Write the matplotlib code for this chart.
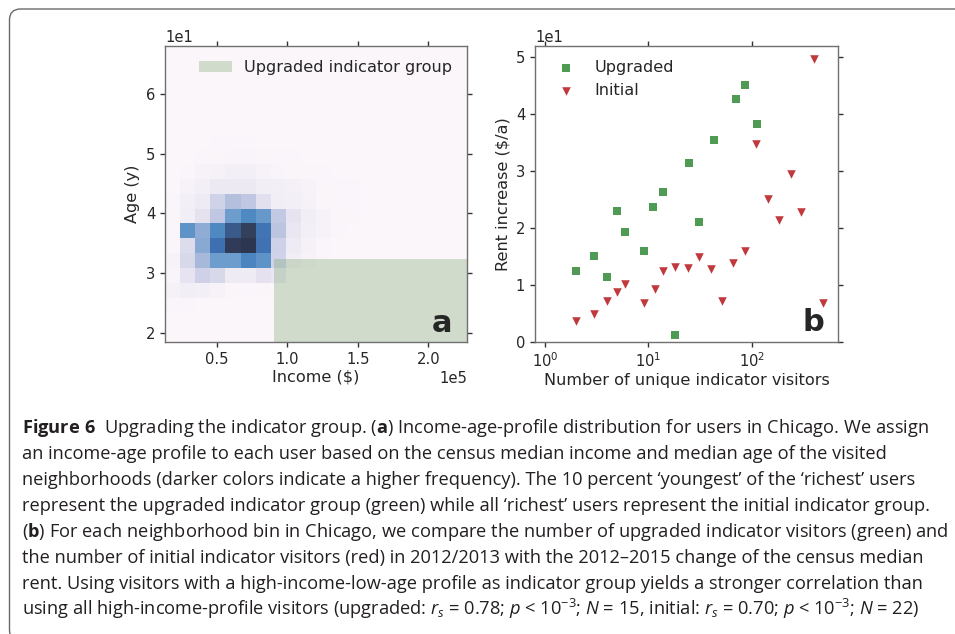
import numpy as np
import matplotlib
matplotlib.use("Agg")
import matplotlib.pyplot as plt
from matplotlib.colors import LinearSegmentedColormap
from matplotlib.patches import Rectangle, FancyBboxPatch
from matplotlib.transforms import IdentityTransform
from matplotlib.ticker import NullLocator

# ---------------- panel a: income-age profile frequency (20 x 20 bins)
income_range = (13300, 227400)
age_range = (18.44, 68.15)
n_bins = 20
first_age_bin = 2   # rows below start at this age bin, columns at income bin 0
freq_block = [
    [0.5, 0.5, 0.3, 0.2, 0, 0, 0, 0, 0, 0, 0, 0, 0],
    [3, 5, 4, 2, 1, 0.5, 1, 0.5, 0, 0, 0, 0, 0],
    [1.5, 9, 19, 15, 6, 6, 10, 8, 1, 0.5, 0, 0, 0],
    [2, 15, 32, 50, 50, 62, 55, 18, 5, 2, 0.5, 0, 0],
    [1, 13, 42, 70, 95, 100, 69, 19, 6, 3, 0.5, 0, 0],
    [0.5, 55, 40, 60, 80, 92, 68, 25, 8, 4, 2, 0.5, 0],
    [1, 5, 10, 24, 50, 60, 52, 23, 9, 5, 2, 1, 0.5],
    [0.5, 4, 6, 18, 28, 24, 11, 5, 4, 3, 1, 0.5, 0.5],
    [0, 2, 4, 7, 7, 7, 5, 4, 3.5, 2, 1, 0.5, 0.5],
    [0, 0.5, 2, 3, 4, 4, 2, 1.5, 1, 1, 0.5, 0, 0],
    [0, 0, 0.5, 1, 1.5, 1.5, 1, 0.5, 0.5, 0, 0, 0, 0],
    [0, 0, 0, 0.5, 0.5, 0.5, 0, 0, 0, 0, 0, 0, 0],
]
rich_income_min = 90600
young_age_max = 32.4

# ---------------- panel b: rent increase vs indicator visitors
upg_visitors = [2, 3, 4, 5, 6, 9, 11, 14, 18, 25, 31, 43, 70, 87, 112]
upg_rent = [12.4, 15.0, 11.4, 22.9, 19.3, 16.0, 23.7, 26.2, 1.2, 31.4, 21.0,
            35.3, 42.6, 45.1, 38.1]
ini_visitors = [2, 3, 4, 5, 6, 9, 11.5, 14, 18, 24, 31, 40, 52, 66, 87, 109,
                145, 183, 241, 301, 405, 488]
ini_rent = [3.7, 4.9, 7.1, 8.8, 10.2, 6.9, 9.3, 12.5, 13.2, 13.0, 14.8, 12.8,
            7.1, 13.8, 16.0, 34.7, 25.1, 21.4, 29.4, 22.8, 49.5, 6.9]

caption_lines = [
    r"$\mathbf{Figure\ 6}$  Upgrading the indicator group. ($\mathbf{a}$) Income-age-profile distribution for users in Chicago. We assign",
    "an income-age profile to each user based on the census median income and median age of the visited",
    "neighborhoods (darker colors indicate a higher frequency). The 10 percent \u2018youngest\u2019 of the \u2018richest\u2019 users",
    "represent the upgraded indicator group (green) while all \u2018richest\u2019 users represent the initial indicator group.",
    r"($\mathbf{b}$) For each neighborhood bin in Chicago, we compare the number of upgraded indicator visitors (green) and",
    "the number of initial indicator visitors (red) in 2012/2013 with the 2012\u20132015 change of the census median",
    "rent. Using visitors with a high-income-low-age profile as indicator group yields a stronger correlation than",
    r"using all high-income-profile visitors (upgraded: $r_s$ = 0.78; $p$ < 10$^{-3}$; $N$ = 15, initial: $r_s$ = 0.70; $p$ < 10$^{-3}$; $N$ = 22)",
]

# ---------------- style
txt = "#262626"
plt.rcParams.update({
    "font.family": "DejaVu Sans",
    "text.color": txt,
    "axes.labelcolor": txt,
    "xtick.color": "#333333",
    "ytick.color": "#333333",
    "xtick.labelcolor": txt,
    "ytick.labelcolor": txt,
    "axes.edgecolor": "#707070",
    "axes.linewidth": 1.0,
    "mathtext.fontset": "custom",
    "mathtext.rm": "Open Sans",
    "mathtext.it": "Open Sans:italic",
    "mathtext.bf": "Open Sans:bold",
})
green = "#4f9b54"
red = "#c0393d"
tick_fs = 10.6
lab_fs = 11.6

heat_cmap = LinearSegmentedColormap.from_list("heat", [
    (0.0, "#fbf6fa"), (0.05, "#f1edf5"), (0.1, "#e4e1ef"), (0.2, "#cbcfe6"),
    (0.3, "#acbbdb"), (0.4, "#8fadd4"), (0.5, "#6d9dcc"), (0.6, "#4e89c2"),
    (0.7, "#3e6fb1"), (0.8, "#3a5a8a"), (0.9, "#34435f"), (1.0, "#2d3650")])

fig = plt.figure(figsize=(9.55, 6.34), dpi=100)
fig.patch.set_facecolor("white")

def style_axes(ax):
    ax.tick_params(which="major", direction="out", length=3.5, width=1.0,
                   top=True, right=True, labelsize=tick_fs)
    ax.yaxis.offsetText.set_fontsize(tick_fs)
    ax.xaxis.offsetText.set_fontsize(tick_fs)

# ---- panel a
ax1 = fig.add_axes([0.1728, 0.4606, 0.3162, 0.4673])
freq = np.zeros((n_bins, n_bins))
blk = np.array(freq_block)
freq[first_age_bin:first_age_bin + blk.shape[0], :blk.shape[1]] = blk
income_edges = np.linspace(income_range[0], income_range[1], n_bins + 1)
age_edges = np.linspace(age_range[0], age_range[1], n_bins + 1)
ax1.pcolormesh(income_edges, age_edges, freq, cmap=heat_cmap, vmin=0, vmax=100)
ax1.add_patch(Rectangle((rich_income_min, age_range[0]),
                        income_range[1] - rich_income_min,
                        young_age_max - age_range[0],
                        facecolor="#729f64", alpha=0.3, edgecolor="none",
                        label="Upgraded indicator group"))
ax1.set_xlim(income_range)
ax1.set_ylim(age_range)
ax1.ticklabel_format(style="sci", scilimits=(0, 0))
ax1.set_xticks([50000, 100000, 150000, 200000])
ax1.set_yticks([20, 30, 40, 50, 60])
ax1.set_xlabel("Income ($)", fontsize=lab_fs, labelpad=2)
ax1.set_ylabel("Age (y)", fontsize=lab_fs)
style_axes(ax1)
ax1.legend(loc="upper right", frameon=False, fontsize=lab_fs)
ax1.text(0.95, 0.034, "a", transform=ax1.transAxes, ha="right", va="baseline",
         fontsize=22, fontweight="bold", color=txt)

# ---- panel b
ax2 = fig.add_axes([0.5602, 0.4606, 0.3176, 0.4673])
ax2.scatter(upg_visitors, upg_rent, marker="s", s=38, color=green,
            linewidths=0, label="Upgraded", zorder=3)
ax2.scatter(ini_visitors, ini_rent, marker="v", s=38, color=red,
            linewidths=0, label="Initial", zorder=3)
ax2.set_xscale("log")
ax2.set_xlim(0.8, 689)
ax2.set_ylim(0, 51.9)
ax2.xaxis.set_minor_locator(NullLocator())
ax2.ticklabel_format(axis="y", style="sci", scilimits=(0, 0))
ax2.set_xlabel("Number of unique indicator visitors", fontsize=lab_fs, labelpad=2)
ax2.set_ylabel("Rent increase ($/a)", fontsize=lab_fs)
style_axes(ax2)
ax2.legend(loc="upper left", frameon=False, fontsize=lab_fs)
ax2.text(0.954, 0.038, "b", transform=ax2.transAxes, ha="right", va="baseline",
         fontsize=22, fontweight="bold", color=txt)

# ---- caption
for k, line in enumerate(caption_lines):
    base = 433.3 + 25.9 * k
    fig.text(22 / 955, (634 - base) / 634, line, ha="left", va="baseline",
             fontsize=13.15, family="Open Sans", color="#231f20")

# ---- rounded frame (cut off at right and bottom)
frame = FancyBboxPatch((9.5, -7), 1000, 632, boxstyle="round,pad=0,rounding_size=11",
                       transform=IdentityTransform(), facecolor="none",
                       edgecolor="#6a6a6a", linewidth=1.0)
fig.add_artist(frame)

fig.savefig("out.png", dpi=100)
